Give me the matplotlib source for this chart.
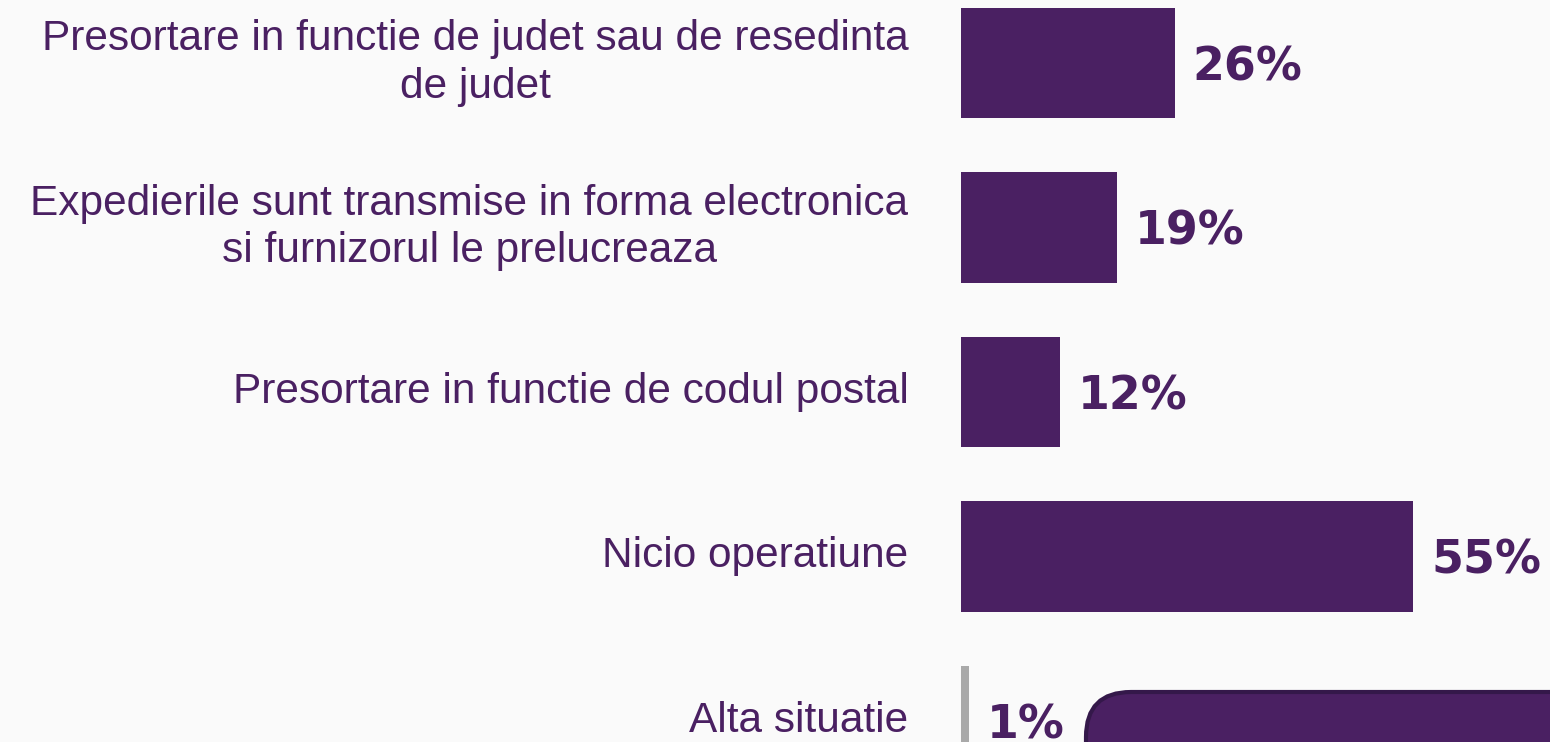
import matplotlib.pyplot as plt
from matplotlib.patches import FancyBboxPatch

categories = [
    "Presortare in functie de judet sau de resedinta\nde judet",
    "Expedierile sunt transmise in forma electronica\nsi furnizorul le prelucreaza",
    "Presortare in functie de codul postal",
    "Nicio operatiune",
    "Alta situatie",
]
values = [26, 19, 12, 55, 1]
colors = ["#4A2062", "#4A2062", "#4A2062", "#4A2062", "#A9A9A9"]

W, H = 1550, 742
fig = plt.figure(figsize=(W / 100, H / 100), dpi=100, facecolor="#FAFAFA")
ax = fig.add_axes([961 / W, 0, (W - 961) / W, 1])
ax.set_facecolor("#FAFAFA")

pos = list(range(len(values)))
ax.barh(pos, values, height=0.67, color=colors)
ax.set_xlim(0, (W - 961) / 8.22)
ax.set_ylim((H - 63) / 164.5, -63 / 164.5)
ax.axis("off")

for y, v, lab in zip(pos, values, categories):
    ax.text(v + 2.2, y + 0.105, f"{v}%", va="baseline", ha="left", zorder=5,
            fontsize=33, fontweight="bold", color="#4A2062", family="DejaVu Sans")
    ax.text(-6.4, y, lab, va="center", ha="right", multialignment="center",
            fontsize=30.5, color="#4A2062", family="Liberation Sans", linespacing=1.25)

# rounded overlay box at bottom right (pixel coords)
box = FancyBboxPatch((1086, -100), 600, 150,
                     boxstyle="round,pad=0,rounding_size=45",
                     transform=None, facecolor="#4A2062",
                     edgecolor="#34184A", linewidth=3, zorder=2)
ax.add_patch(box)

fig.savefig("out.png", dpi=100, facecolor=fig.get_facecolor())
